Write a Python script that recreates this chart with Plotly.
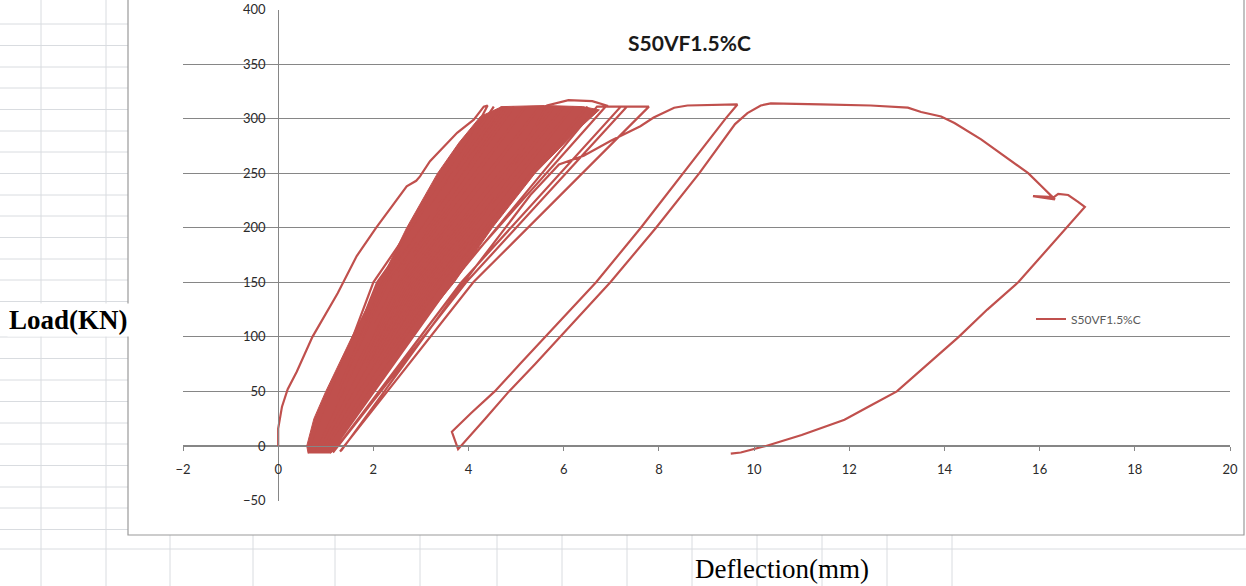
import plotly.graph_objects as go

# ---------------- data ----------------
series_name = "S50VF1.5%C"
x_ticks = [-2, 0, 2, 4, 6, 8, 10, 12, 14, 16, 18, 20]
y_ticks = [-50, 0, 50, 100, 150, 200, 250, 300, 350, 400]

# initial loading envelope
envelope_x = [0.00, 0.00, 0.08, 0.20, 0.39, 0.72, 1.25, 1.65, 2.06, 2.70, 2.90, 2.98, 3.19, 3.76, 4.11, 4.32, 4.40]
envelope_y = [0, 16, 36, 52, 68, 100, 140, 174, 200, 238, 243, 247, 261, 287, 299, 311, 312]

# repeated load cycles (valley -> mid -> peak -> mid -> valley ...)
cycles_x = [0.66, 2.00, 4.53, 2.10, 0.66, 2.08, 4.70, 2.15, 0.68, 2.14, 4.81, 2.25,
            0.70, 2.25, 4.95, 2.35, 0.74, 2.40, 5.20, 2.50, 0.80, 2.60, 5.50, 2.70,
            0.85, 2.80, 5.80, 2.90, 0.90, 3.00, 6.00, 3.10, 0.95, 3.20, 6.20, 3.30,
            1.00, 3.40, 6.50, 3.50, 1.05, 3.55, 5.65, 6.10, 6.60, 6.90, 3.60,
            1.10, 3.65, 6.70, 7.33, 3.95, 1.15, 3.85, 7.20, 7.79, 4.10, 1.30]
cycles_y = [-6, 150, 311, 150, -6, 150, 311, 150, -6, 150, 311, 150,
            -6, 150, 311, 150, -6, 150, 311, 150, -6, 150, 311, 150,
            -6, 150, 311, 150, -6, 150, 311, 150, -6, 150, 311, 150,
            -6, 150, 311, 150, -6, 150, 312, 317, 316, 312, 150,
            -6, 150, 311, 311, 150, -6, 150, 311, 311, 150, -5]

# larger loops and post-peak branch
tail_x = [1.33, 3.90, 5.30, 5.90, 6.42, 7.00, 7.33, 7.61, 7.89, 8.32, 8.60, 9.65,
          9.40, 8.50, 7.62, 6.68, 5.60, 5.08, 4.55, 4.05, 3.65, 3.78, 4.35, 4.85, 5.40,
          5.93, 6.98, 7.94, 8.85, 9.60, 9.86, 10.14, 10.35, 11.40, 12.45,
          13.23, 13.51, 13.93, 14.21, 14.77, 15.33, 15.76, 16.04, 16.32, 15.86, 16.30,
          16.39, 16.60, 16.80, 16.95, 15.55, 14.90, 14.30, 13.65, 13.00, 12.45, 11.90,
          11.00, 10.25, 9.72, 9.51]
tail_y = [-4, 150, 230, 258, 266, 280, 287, 293, 301, 310, 312, 313,
          300, 250, 200, 150, 100, 75, 50, 30, 13, -3, 25, 50, 75,
          100, 150, 200, 250, 295, 305, 312, 314, 313, 312,
          310, 306, 302, 296, 281, 263, 250, 238, 226, 229, 228,
          231, 230, 224, 219, 150, 125, 100, 75, 50, 37, 24,
          10, 0, -6, -7]

# dense core of the many small cycles (outline of the solid region)
dense_x = [0.63, 0.60, 0.75, 1.00, 1.55, 2.14, 2.70, 3.35, 3.80, 4.25, 4.70, 5.60, 6.40, 6.75,
           6.30, 5.40, 4.50, 3.70, 2.77, 1.93, 1.45, 1.15, 1.10]
dense_y = [-7, 0, 25, 50, 100, 150, 200, 250, 278, 302, 311, 312, 311, 308,
           290, 250, 200, 150, 100, 50, 20, 0, -7]

line_color = "#C0504D"

# ---------------- figure ----------------
W, H = 1246, 586
def px(x):
    return x / W
def py(y):
    return 1 - y / H

path_x = envelope_x + cycles_x + tail_x
path_y = envelope_y + cycles_y + tail_y

fig = go.Figure()
fig.add_trace(go.Scatter(x=dense_x, y=dense_y, mode="lines", fill="toself",
                         fillcolor=line_color, line=dict(color=line_color, width=1),
                         showlegend=False, hoverinfo="skip"))
fig.add_trace(go.Scatter(x=path_x, y=path_y, mode="lines", name=series_name,
                         line=dict(color=line_color, width=2.2)))

x0p, x1p = 183, 1230
ytop, ybot = 9.5, 500.5
xdom = [px(x0p), px(x1p)]
ydom = [py(ybot), py(ytop)]
xr = [-2, 20]
yr = [-50, 400]
ypos_axis = xdom[0] + (xdom[1] - xdom[0]) * (0 - xr[0]) / (xr[1] - xr[0])
xpos_axis = ydom[0] + (ydom[1] - ydom[0]) * (0 - yr[0]) / (yr[1] - yr[0])

tickfont = dict(family="Lato", size=13, color="#2b2b2b")
fig.update_layout(
    template="none",
    width=W, height=H, margin=dict(l=0, r=0, t=0, b=0, pad=0, autoexpand=False),
    paper_bgcolor="white", plot_bgcolor="rgba(0,0,0,0)",
    xaxis=dict(domain=xdom, range=xr, tickvals=x_ticks, showgrid=False, zeroline=False,
               anchor="free", position=xpos_axis, showline=True, linecolor="#868686",
               linewidth=1, ticks="outside", ticklen=4, tickcolor="#868686",
               tickfont=tickfont, ticklabelstandoff=7, automargin=False),
    yaxis=dict(domain=ydom, range=yr, tickvals=y_ticks, showgrid=True, gridcolor="#868686",
               gridwidth=1, zeroline=False, anchor="free", position=ypos_axis,
               showline=True, linecolor="#868686", linewidth=1, ticks="",
               tickfont=tickfont, ticklabelstandoff=10, automargin=False),
    showlegend=True,
    legend=dict(x=px(1031), y=py(319), xanchor="left", yanchor="middle",
                bgcolor="rgba(0,0,0,0)", borderwidth=0,
                font=dict(family="Lato", size=12, color="#595959")),
)

# spreadsheet background: chart frame and cell grid lines
shapes = []
cell = "#D9DCE0"
for yy in [24, 45.5, 67, 88, 109.5, 131, 152, 173.5, 195, 216, 237.5, 259, 280, 301.5,
           337, 358.5, 380, 401.5, 423, 444, 465.5, 487, 508, 529.5, 549]:
    shapes.append(dict(type="line", xref="paper", yref="paper", x0=0, x1=px(128),
                       y0=py(yy), y1=py(yy), line=dict(color=cell, width=1), layer="below"))
shapes.append(dict(type="line", xref="paper", yref="paper", x0=px(128), x1=1,
                   y0=py(549), y1=py(549), line=dict(color=cell, width=1), layer="below"))
for xx in [41, 106]:
    shapes.append(dict(type="line", xref="paper", yref="paper", x0=px(xx), x1=px(xx),
                       y0=0, y1=1, line=dict(color=cell, width=1), layer="below"))
for xx in [170, 253, 335, 420, 497, 562, 627, 692, 757, 822, 887, 952]:
    shapes.append(dict(type="line", xref="paper", yref="paper", x0=px(xx), x1=px(xx),
                       y0=0, y1=py(535), line=dict(color=cell, width=1), layer="below"))
shapes.append(dict(type="rect", xref="paper", yref="paper", x0=px(128), x1=px(1244),
                   y0=py(535), y1=py(-2), line=dict(color="#9A9A9A", width=1.2),
                   fillcolor="white", layer="below"))
fig.update_layout(shapes=shapes)

fig.add_annotation(text="<b>S50VF1.5%C</b>", xref="paper", yref="paper", x=px(689), y=py(43),
                   xanchor="center", yanchor="middle", showarrow=False,
                   font=dict(family="Lato", size=21, color="#1a1a1a"))
fig.add_annotation(text="<b>Load(KN)</b>", xref="paper", yref="paper", x=px(68), y=py(320),
                   xanchor="center", yanchor="middle", showarrow=False, bgcolor="white",
                   font=dict(family="Liberation Serif", size=27, color="black"))
fig.add_annotation(text="Deflection(mm)", xref="paper", yref="paper", x=px(782), y=py(569),
                   xanchor="center", yanchor="middle", showarrow=False,
                   font=dict(family="Liberation Serif", size=27, color="black"))

fig.write_html("out.html")
